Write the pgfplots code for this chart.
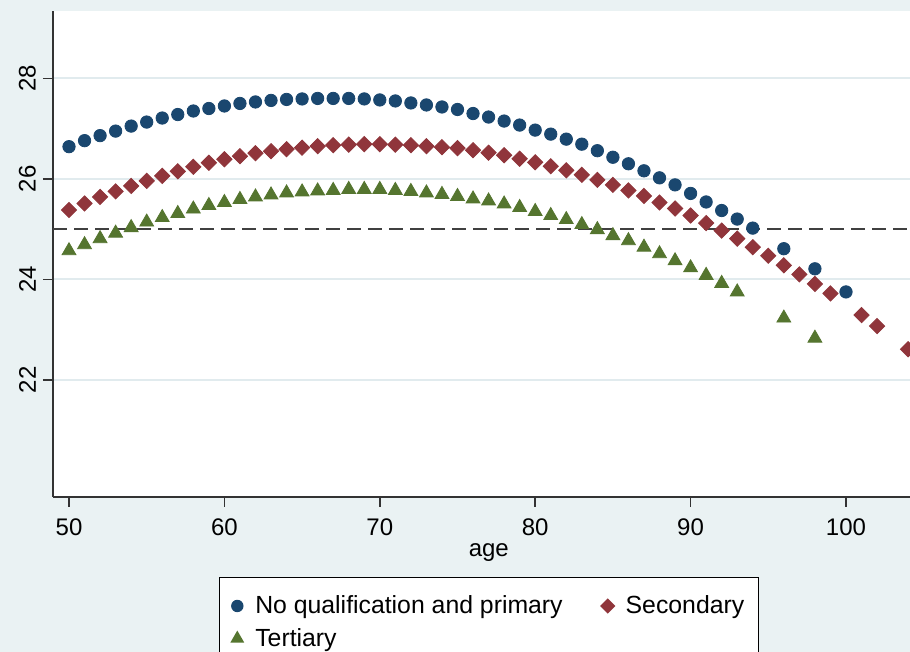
\documentclass[border=0pt]{standalone}
\usepackage{pgfplots}
\pgfplotsset{compat=1.18}
\usepackage{fontspec}
\setmainfont{Liberation Sans}
\definecolor{bgc}{RGB}{234,242,243}
\definecolor{gridc}{RGB}{225,235,238}
\definecolor{snavy}{RGB}{26,71,111}
\definecolor{smaroon}{RGB}{144,53,59}
\definecolor{sgreen}{RGB}{85,117,47}
\begin{document}
\begin{tikzpicture}
\fill[bgc] (-26.5pt,-77.5pt) rectangle (428.5pt,248.5pt);
\begin{axis}[
  scale only axis,
  width=428.5pt, height=243pt,
  xmin=48.97, xmax=104.12,
  ymin=19.67, ymax=29.34,
  xtick={50,60,70,80,90,100},
  ytick={22,24,26,28},
  axis lines*=left,
  axis line style={black!80, line width=0.7pt},
  tick style={black!80, line width=0.7pt},
  tick align=outside,
  major tick length=5pt,
  ymajorgrids,
  grid style={gridc, line width=0.9pt},
  axis background/.style={fill=white},
  /pgf/number format/assume math mode=true,
  tick label style={font=\fontsize{12}{14}\selectfont},
  xticklabel style={yshift=-2.5pt},
  yticklabel style={rotate=90, anchor=south},
  xlabel={age},
  xlabel style={font=\fontsize{12}{14}\selectfont, at={(axis description cs:0.5085,-0.1228)}, anchor=base},
  legend columns=2,
  legend cell align=left,
  legend style={at={(axis description cs:0.5085,-0.1646)}, anchor=north,
    draw=black, line width=0.5pt, fill=white,
    font=\fontsize{12.4}{14}\selectfont,
    inner xsep=5pt, inner ysep=7pt,
    nodes={inner sep=2pt},
    row sep=1.8pt,
    /tikz/every odd column/.append style={column sep=3pt},
    /tikz/every even column/.append style={column sep=16.5pt}},
]
\addplot[forget plot, color=black!75, line width=0.7pt, dash pattern=on 7pt off 3.5pt] coordinates {(48.97,25) (104.12,25)};
\addplot[only marks, mark=*, mark size=3.1pt, color=snavy, mark options={fill=snavy, draw=snavy},
  legend image code/.code={\path[draw=none,fill=none] (-4pt,-4pt) rectangle (4pt,4pt); \fill[snavy,draw=none] (0pt,0pt) circle (3.1pt);}] coordinates {
(50,26.64)(51,26.76)(52,26.86)(53,26.95)(54,27.05)(55,27.13)(56,27.21)(57,27.28)(58,27.35)(59,27.40)
(60,27.45)(61,27.50)(62,27.53)(63,27.56)(64,27.58)(65,27.59)(66,27.60)(67,27.60)(68,27.60)(69,27.59)
(70,27.57)(71,27.55)(72,27.51)(73,27.47)(74,27.43)(75,27.38)(76,27.30)(77,27.23)(78,27.15)(79,27.07)
(80,26.97)(81,26.89)(82,26.79)(83,26.69)(84,26.56)(85,26.43)(86,26.30)(87,26.16)(88,26.02)(89,25.88)
(90,25.71)(91,25.54)(92,25.37)(93,25.20)(94,25.02)(96,24.61)(98,24.21)(100,23.75)};
\addlegendentry{No qualification and primary}
\addplot[only marks, mark=square*, mark size=2.7pt, color=smaroon, mark options={rotate=45, fill=smaroon, draw=smaroon},
  legend image code/.code={\path[draw=none,fill=none] (-4pt,-4pt) rectangle (4pt,4pt); \fill[smaroon,draw=none] (0pt,3.8pt)--(3.8pt,0pt)--(0pt,-3.8pt)--(-3.8pt,0pt)--cycle;}] coordinates {
(50,25.38)(51,25.51)(52,25.64)(53,25.75)(54,25.86)(55,25.96)(56,26.06)(57,26.15)(58,26.24)(59,26.32)
(60,26.39)(61,26.45)(62,26.51)(63,26.55)(64,26.59)(65,26.62)(66,26.65)(67,26.67)(68,26.68)(69,26.69)
(70,26.69)(71,26.68)(72,26.67)(73,26.65)(74,26.63)(75,26.61)(76,26.57)(77,26.52)(78,26.47)(79,26.40)
(80,26.33)(81,26.25)(82,26.17)(83,26.08)(84,25.98)(85,25.88)(86,25.77)(87,25.66)(88,25.53)(89,25.41)
(90,25.27)(91,25.12)(92,24.97)(93,24.81)(94,24.64)(95,24.47)(96,24.28)(97,24.10)(98,23.91)(99,23.72)
(101,23.29)(102,23.07)(104,22.61)};
\addlegendentry{Secondary}
\addplot[only marks, mark=triangle*, mark size=4pt, color=sgreen, mark options={fill=sgreen, draw=sgreen},
  legend image code/.code={\path[draw=none,fill=none] (-4pt,-4pt) rectangle (4pt,4pt); \fill[sgreen,draw=none] (90:4pt)--(210:4pt)--(330:4pt)--cycle;}] coordinates {
(50,24.57)(51,24.69)(52,24.81)(53,24.92)(54,25.03)(55,25.14)(56,25.23)(57,25.31)(58,25.40)(59,25.47)
(60,25.53)(61,25.59)(62,25.64)(63,25.68)(64,25.72)(65,25.74)(66,25.76)(67,25.77)(68,25.79)(69,25.79)
(70,25.79)(71,25.77)(72,25.75)(73,25.72)(74,25.69)(75,25.65)(76,25.60)(77,25.56)(78,25.50)(79,25.43)
(80,25.35)(81,25.27)(82,25.19)(83,25.09)(84,24.99)(85,24.87)(86,24.77)(87,24.64)(88,24.51)(89,24.37)
(90,24.23)(91,24.08)(92,23.92)(93,23.75)(96,23.23)(98,22.83)};
\addlegendentry{Tertiary}
\end{axis}
\pgfresetboundingbox
\useasboundingbox (-26.5pt,-77.5pt) rectangle (428.5pt,248.5pt);
\end{tikzpicture}
\end{document}
